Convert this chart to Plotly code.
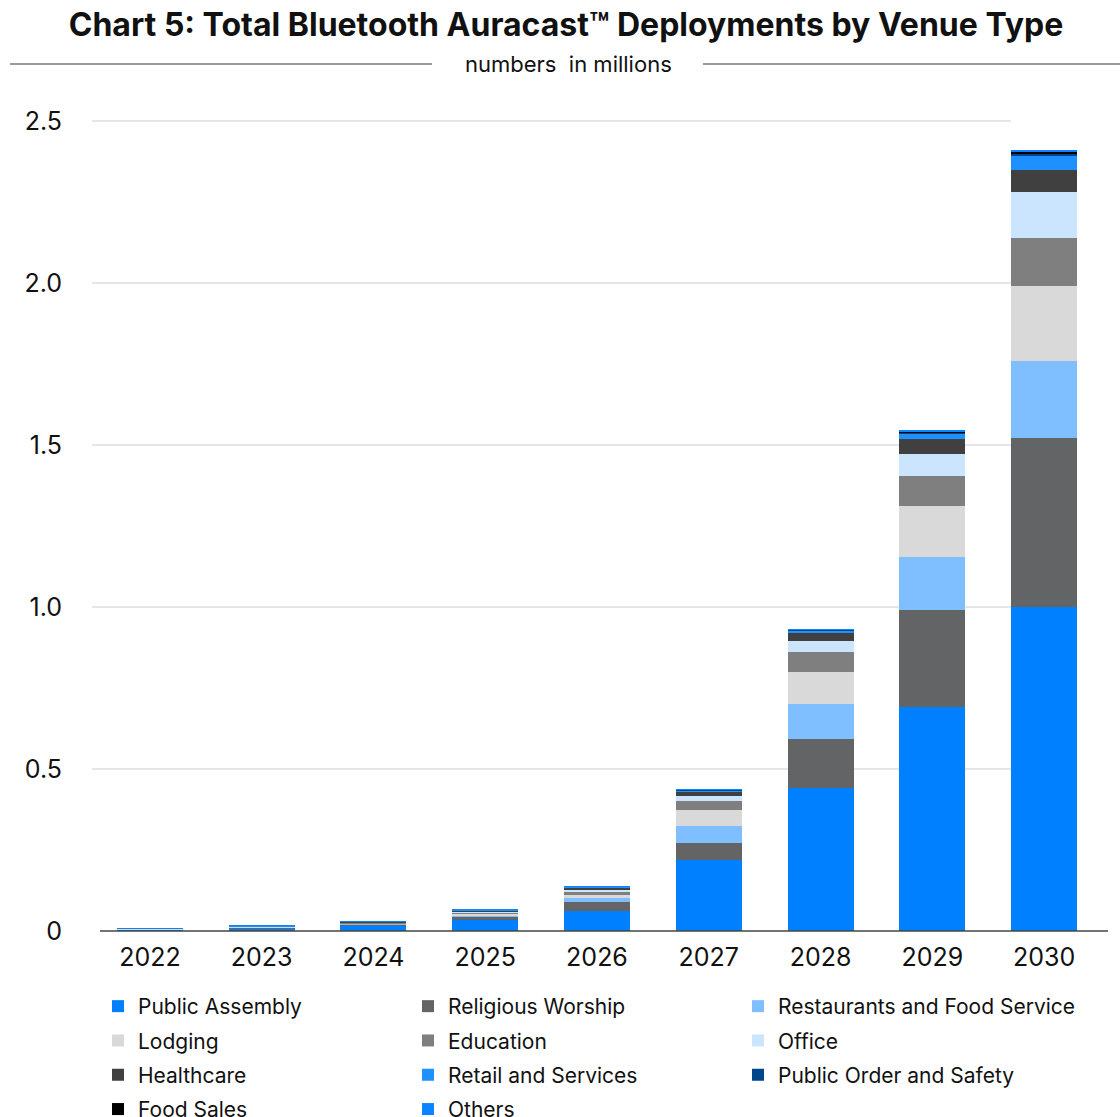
import plotly.graph_objects as go

years = ["2022", "2023", "2024", "2025", "2026", "2027", "2028", "2029", "2030"]

public_assembly = [0.0042, 0.0085, 0.016, 0.033, 0.063, 0.219, 0.441, 0.691, 1.000]
religious_worship = [0.0012, 0.0025, 0.0045, 0.011, 0.027, 0.053, 0.152, 0.300, 0.522]
restaurants_food = [0.0006, 0.0012, 0.002, 0.005, 0.0105, 0.052, 0.107, 0.163, 0.237]
lodging = [0.0006, 0.0012, 0.002, 0.005, 0.0105, 0.050, 0.100, 0.157, 0.232]
education = [0.0004, 0.0008, 0.0015, 0.004, 0.0095, 0.028, 0.060, 0.094, 0.148]
office = [0.0003, 0.0006, 0.001, 0.003, 0.0063, 0.014, 0.035, 0.066, 0.141]
healthcare = [0.0003, 0.0006, 0.001, 0.003, 0.0073, 0.016, 0.026, 0.048, 0.069]
retail_services = [0.0002, 0.0003, 0.0005, 0.0012, 0.0025, 0.002, 0.007, 0.017, 0.044]
public_order = [0.0001, 0.0002, 0.0004, 0.0005, 0.001, 0.002, 0.0015, 0.004, 0.008]
food_sales = [0.00005, 0.0001, 0.0001, 0.0002, 0.0003, 0.0005, 0.001, 0.003, 0.004]
others = [0.00005, 0.0001, 0.0001, 0.0002, 0.0003, 0.0005, 0.001, 0.003, 0.004]

y_tickvals = [0, 0.5, 1.0, 1.5, 2.0, 2.5]
y_ticktext = ["0", "0.5", "1.0", "1.5", "2.0", "2.5"]

series = [
    ("Public Assembly", public_assembly, "#0080FF", "legend"),
    ("Religious Worship", religious_worship, "#636466", "legend2"),
    ("Restaurants and Food Service", restaurants_food, "#80BFFF", "legend3"),
    ("Lodging", lodging, "#D9D9D9", "legend"),
    ("Education", education, "#7F7F7F", "legend2"),
    ("Office", office, "#CCE5FF", "legend3"),
    ("Healthcare", healthcare, "#404040", "legend"),
    ("Retail and Services", retail_services, "#1E90FF", "legend2"),
    ("Public Order and Safety", public_order, "#00468C", "legend3"),
    ("Food Sales", food_sales, "#000000", "legend"),
    ("Others", others, "#0A84FF", "legend2"),
]

FONT = "Inter"

fig = go.Figure()
for i, (name, vals, color, leg) in enumerate(series):
    fig.add_trace(go.Bar(
        x=years, y=vals, name=name,
        marker=dict(color=color, line=dict(width=0)),
        legend=leg, legendgroup=f"g{i}",
    ))

L, R, T, B = 94, 20, 100, 186
W, H = 1120, 1117
pw = W - L - R
ph = H - T - B

def px_x(p):
    return (p - L) / pw

def px_y(p):
    return (H - B - p) / ph

def cx(p):
    return p / W

def cy(p):
    return 1 - p / H

shapes = []
for v in y_tickvals[1:]:
    shapes.append(dict(type="line", xref="paper", yref="y", x0=px_x(92), x1=px_x(1011),
                       y0=v, y1=v, line=dict(color="#E6E6E6", width=2), layer="below"))
shapes.append(dict(type="line", xref="paper", yref="paper", x0=px_x(100), x1=px_x(1108),
                   y0=0, y1=0, line=dict(color="#444444", width=1.5), layer="above"))
shapes.append(dict(type="line", xref="paper", yref="paper", x0=px_x(10), x1=px_x(432),
                   y0=px_y(64), y1=px_y(64), line=dict(color="#9A9A9A", width=2)))
shapes.append(dict(type="line", xref="paper", yref="paper", x0=px_x(703), x1=px_x(1120),
                   y0=px_y(64), y1=px_y(64), line=dict(color="#9A9A9A", width=2)))

legend_common = dict(orientation="v", yanchor="top", xanchor="left",
                     yref="container", xref="container", y=cy(986),
                     font=dict(family=FONT, size=21, color="#111111"),
                     bgcolor="rgba(0,0,0,0)", tracegroupgap=4, itemclick=False)

fig.update_layout(
    width=W, height=H,
    margin=dict(l=L, r=R, t=T, b=B, autoexpand=False),
    paper_bgcolor="white", plot_bgcolor="white",
    barmode="stack", bargap=0.41,
    font=dict(family=FONT, color="#111111"),
    title=dict(text="<b>Chart 5: Total Bluetooth Auracast™ Deployments by Venue Type</b>",
               x=566 / W, xanchor="center", xref="container",
               y=1 - 25 / H, yanchor="middle", yref="container",
               font=dict(family=FONT, size=32, color="#111111")),
    xaxis=dict(type="category", showgrid=False, showline=False, ticks="",
               tickfont=dict(family=FONT, size=25, color="#111111"),
               ticklabelstandoff=9),
    yaxis=dict(range=[0, (H - B - T) / 324.0], showgrid=False, zeroline=False,
               showline=False, ticks="", tickvals=y_tickvals, ticktext=y_ticktext,
               tickfont=dict(family=FONT, size=25, color="#111111"),
               ticklabelstandoff=31),
    shapes=shapes,
    annotations=[dict(text="numbers\u00a0 in millions", xref="paper", yref="paper",
                      x=px_x(568), y=px_y(64), xanchor="center", yanchor="middle",
                      showarrow=False, font=dict(family=FONT, size=22, color="#111111"))],
    legend=dict(x=cx(98), **legend_common),
    legend2=dict(x=cx(408), **legend_common),
    legend3=dict(x=cx(738), **legend_common),
)

fig.write_html("out.html")
